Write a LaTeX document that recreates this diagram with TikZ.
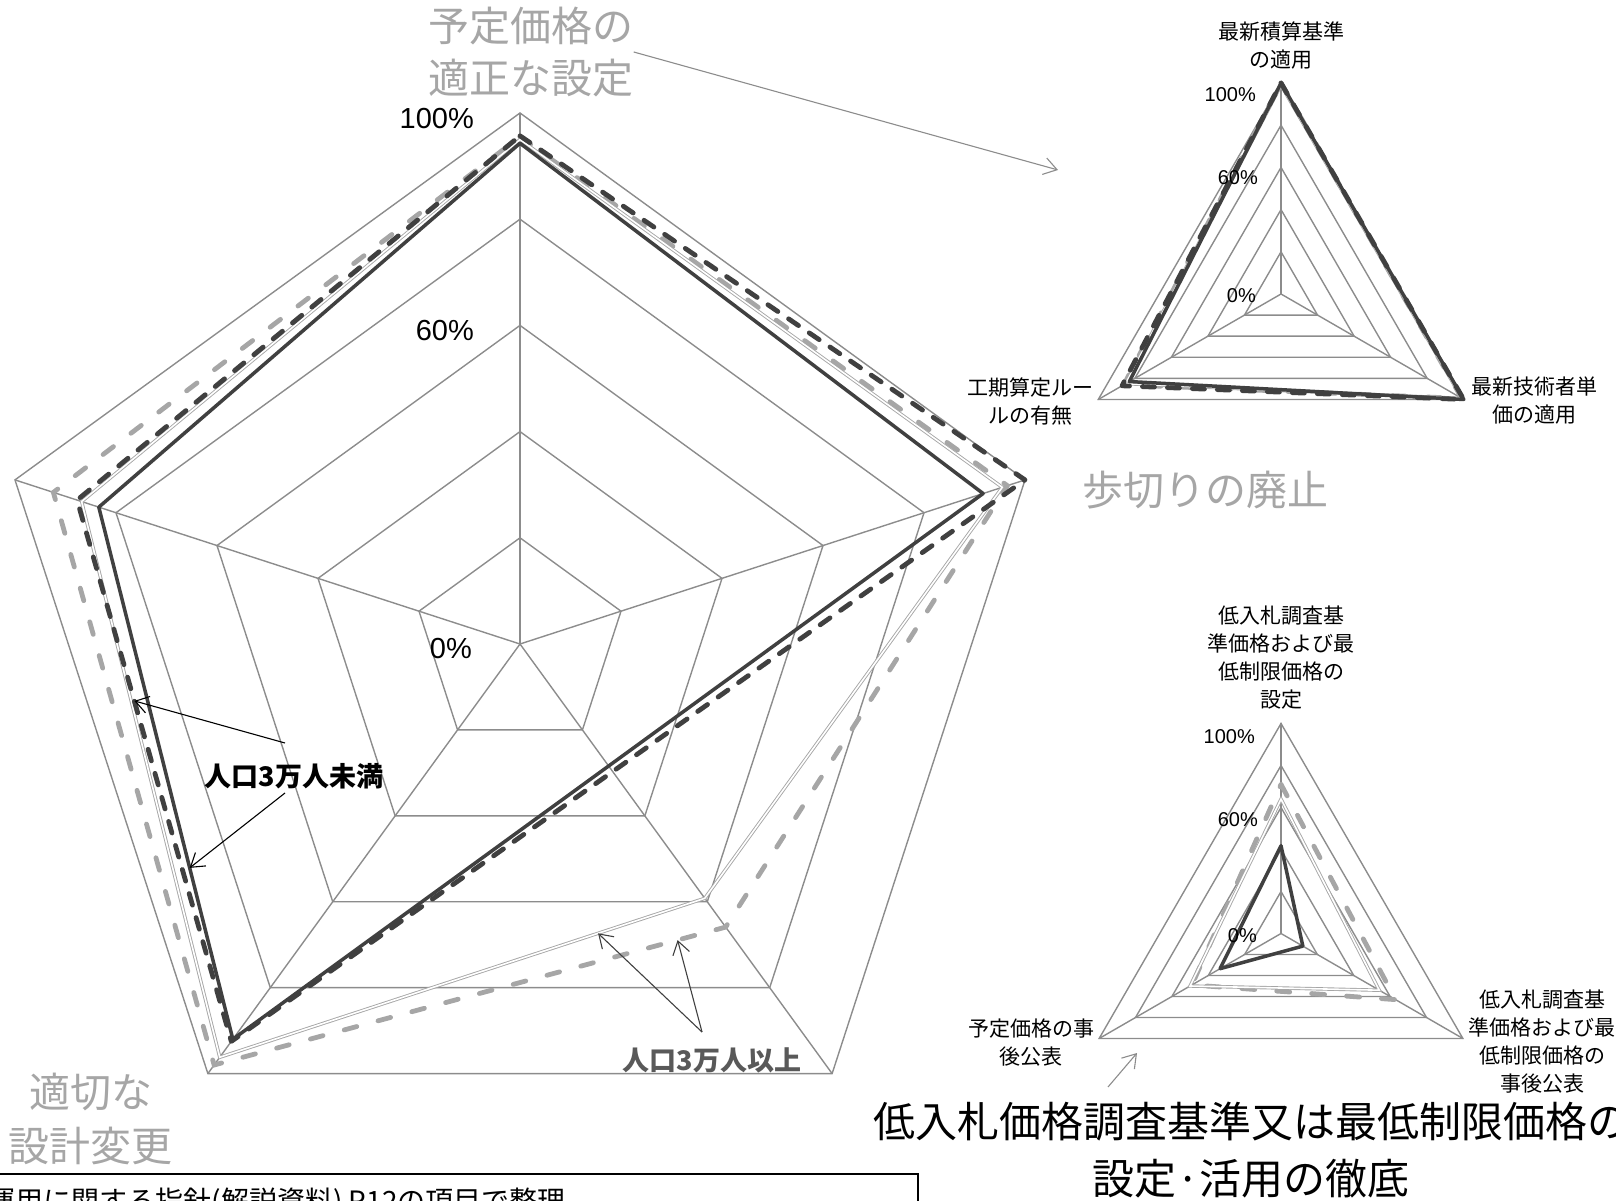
\documentclass[tikz,border=0pt]{standalone}
\usepackage{fontspec}
\setmainfont{Liberation Sans}
\newfontfamily\jp{Noto Sans CJK JP}
\usepackage{tikz}
\usetikzlibrary{calc,arrows.meta}

\definecolor{gridgray}{HTML}{8C8C8C}
\definecolor{darkline}{HTML}{404040}
\definecolor{lightline}{HTML}{A6A6A6}
\definecolor{notegray}{HTML}{595959}

\begin{document}
\begin{tikzpicture}[x=1pt, y=1pt, >={Straight Barb[length=13pt,width=17pt]},
  gridline/.style={draw=gridgray, line width=1.4pt},
  lowsolid/.style={draw=darkline, line width=3.5pt, line join=round},
  lowdash/.style={draw=darkline, line width=4.8pt, line cap=round, line join=round, dash pattern=on 12pt off 13pt},
  highsolid/.style={draw=lightline, line width=0.9pt, double=white, double distance=1.6pt},
  highdash/.style={draw=lightline, line width=4.8pt, line cap=round, dash pattern=on 13pt off 22pt},
  bigtitle/.style={text=lightline, font=\jp\fontsize{41}{52}\selectfont, align=center, inner sep=0pt},
  axislab/.style={font=\jp\fontsize{21}{28}\selectfont, align=center, inner sep=0pt},
  pct/.style={font=\fontsize{29}{30}\selectfont, anchor=east, inner sep=0pt},
  smallpct/.style={font=\fontsize{20}{20}\selectfont, anchor=east, inner sep=0pt},
  poplab/.style={font=\jp\bfseries\fontsize{27}{30}\selectfont, inner sep=0pt},
  pointer/.style={->, line width=1.1pt}]

  \useasboundingbox (0,0) rectangle (1616,1200);
  \clip (0,0) rectangle (1616,1200);

  % big pentagon
  \begin{scope}[shift={(520,556)}]
    \foreach \k in {1,...,5}
      \draw[gridline] (90:{\k*106.2}) -- (18:{\k*106.2}) -- (-54:{\k*106.2}) -- (-126:{\k*106.2}) -- (162:{\k*106.2}) -- cycle;
    \foreach \a in {90,18,-54,-126,162}
      \draw[gridline] (0,0) -- (\a:531);
    \foreach \v [count=\i] in {0.955,0.965,0.659,0.98,0.924}
      \coordinate (hd\i) at ({162-72*\i}:{\v*531});
    \foreach \v [count=\i] in {0.95,0.955,0.592,0.962,0.868}
      \coordinate (hs\i) at ({162-72*\i}:{\v*531});
    \foreach \v [count=\i] in {0.943,0.917,0.284,0.92,0.834}
      \coordinate (ls\i) at ({162-72*\i}:{\v*531});
    \foreach \v [count=\i] in {0.957,1.0,0.297,0.925,0.877}
      \coordinate (ld\i) at ({162-72*\i}:{\v*531});
    \draw[highdash] (hd1) -- (hd2) -- (hd3) -- (hd4) -- (hd5) -- cycle;
    \draw[highsolid] (hs1) -- (hs2) -- (hs3) -- (hs4) -- (hs5) -- cycle;
    \draw[lowsolid] (ls1) -- (ls2) -- (ls3) -- (ls4) -- (ls5) -- cycle;
    \draw[lowdash] (ld1) -- (ld2) -- (ld3) -- (ld4) -- (ld5) -- cycle;
  \end{scope}
  \node[pct] (big100) at (474,1081) {100\%};
  \node[pct] (big60) at (474,869) {60\%};
  \node[pct] (big0) at (472,551) {0\%};

  % upper triangle
  \begin{scope}[shift={(1281,906)}]
    \foreach \k in {1,...,5}
      \draw[gridline] (90:{\k*42.2}) -- (-30:{\k*42.2}) -- (210:{\k*42.2}) -- cycle;
    \foreach \a in {90,-30,210}
      \draw[gridline] (0,0) -- (\a:211);
    \foreach \v [count=\i] in {1.0,0.99,0.86}
      \coordinate (ahd\i) at ({210-120*\i}:{\v*211});
    \foreach \v [count=\i] in {0.99,0.99,0.85}
      \coordinate (ahs\i) at ({210-120*\i}:{\v*211});
    \foreach \v [count=\i] in {1.0,1.0,0.83}
      \coordinate (als\i) at ({210-120*\i}:{\v*211});
    \foreach \v [count=\i] in {1.0,1.0,0.87}
      \coordinate (ald\i) at ({210-120*\i}:{\v*211});
    \draw[highdash] (ahd1) -- (ahd2) -- (ahd3) -- cycle;
    \draw[highsolid] (ahs1) -- (ahs2) -- (ahs3) -- cycle;
    \draw[lowsolid] (als1) -- (als2) -- (als3) -- cycle;
    \draw[lowdash] (ald1) -- (ald2) -- (ald3) -- cycle;
  \end{scope}
  \node[smallpct] (up100) at (1256,1105) {100\%};
  \node[smallpct] (up60) at (1258,1022) {60\%};
  \node[smallpct] (up0) at (1256,904) {0\%};
  \node[axislab] (upTop) at (1281,1154) {最新積算基準\\の適用};
  \node[axislab] (upLeft) at (1030,799) {工期算定ルー\\ルの有無};
  \node[axislab] (upRight) at (1534,799) {最新技術者単\\価の適用};

  % lower triangle
  \begin{scope}[shift={(1281,266.5)}]
    \foreach \k in {1,...,5}
      \draw[gridline] (90:{\k*42}) -- (-30:{\k*42}) -- (210:{\k*42}) -- cycle;
    \foreach \a in {90,-30,210}
      \draw[gridline] (0,0) -- (\a:210);
    \foreach \v [count=\i] in {0.71,0.63,0.49}
      \coordinate (bhd\i) at ({210-120*\i}:{\v*210});
    \foreach \v [count=\i] in {0.64,0.54,0.50}
      \coordinate (bhs\i) at ({210-120*\i}:{\v*210});
    \foreach \v [count=\i] in {0.418,0.12,0.335}
      \coordinate (bls\i) at ({210-120*\i}:{\v*210});
    \draw[highdash] (bhd1) -- (bhd2) -- (bhd3) -- cycle;
    \draw[highsolid] (bhs1) -- (bhs2) -- (bhs3) -- cycle;
    \draw[lowsolid] (bls1) -- (bls2) -- (bls3) -- cycle;
  \end{scope}
  \node[smallpct] (lo100) at (1255,463) {100\%};
  \node[smallpct] (lo60) at (1258,380) {60\%};
  \node[smallpct] (lo0) at (1257,264) {0\%};
  \node[axislab] (loTop) at (1281,542) {低入札調査基\\準価格および最\\低制限価格の\\設定};
  \node[axislab] (loLeft) at (1031,157) {予定価格の事\\後公表};
  \node[axislab] (loRight) at (1542,158) {低入札調査基\\準価格および最\\低制限価格の\\事後公表};

  % group titles
  \node[bigtitle] (tPrice) at (531,1148) {予定価格の\\適正な設定};
  \node[bigtitle] (tCut) at (1205,710) {歩切りの廃止};
  \node[bigtitle, font=\jp\fontsize{41}{54}\selectfont] (tDesign) at (91,81) {適切な\\設計変更};
  \node[bigtitle, text=black, font=\jp\fontsize{42}{57}\selectfont] (tLow) at (1251,50) {低入札価格調査基準又は最低制限価格の\\設定·活用の徹底};
  \coordinate (priceHead) at (1058,1030);
  \coordinate (lowTail) at (1108,113);
  \coordinate (lowHead) at (1137,147);
  \draw[pointer, gridgray] (tPrice.east) -- (priceHead);
  \draw[pointer, gridgray] (lowTail) -- (lowHead);

  % population labels
  \node[poplab] (popLow) at (294,424) {人口3万人未満};
  \node[poplab, text=notegray] (popHigh) at (712,140) {人口3万人以上};
  \coordinate (lowTail1) at (285,457);
  \coordinate (lowTail2) at (285,407);
  \coordinate (lowTip1) at ($(ld5)!0.371!(ld4)$);
  \coordinate (lowTip2) at ($(ls5)!0.678!(ls4)$);
  \coordinate (highTail) at (702,168);
  \coordinate (highTip1) at ($(hs3)!0.22!(hs4)$);
  \coordinate (highTip2) at ($(hd3)!0.094!(hd4)$);
  \draw[pointer] (lowTail1) -- (lowTip1);
  \draw[pointer] (lowTail2) -- (lowTip2);
  \draw[pointer, darkline] (highTail) -- (highTip1);
  \draw[pointer, darkline] (highTail) -- (highTip2);

  % source note
  \draw[line width=1.5pt] (-5,-30) rectangle (918,26);
  \node[font=\jp\fontsize{28}{30}\selectfont, anchor=base east, inner sep=0pt] (note) at (566,-11) {運用に関する指針(解説資料) P12の項目で整理};
\end{tikzpicture}
\end{document}
